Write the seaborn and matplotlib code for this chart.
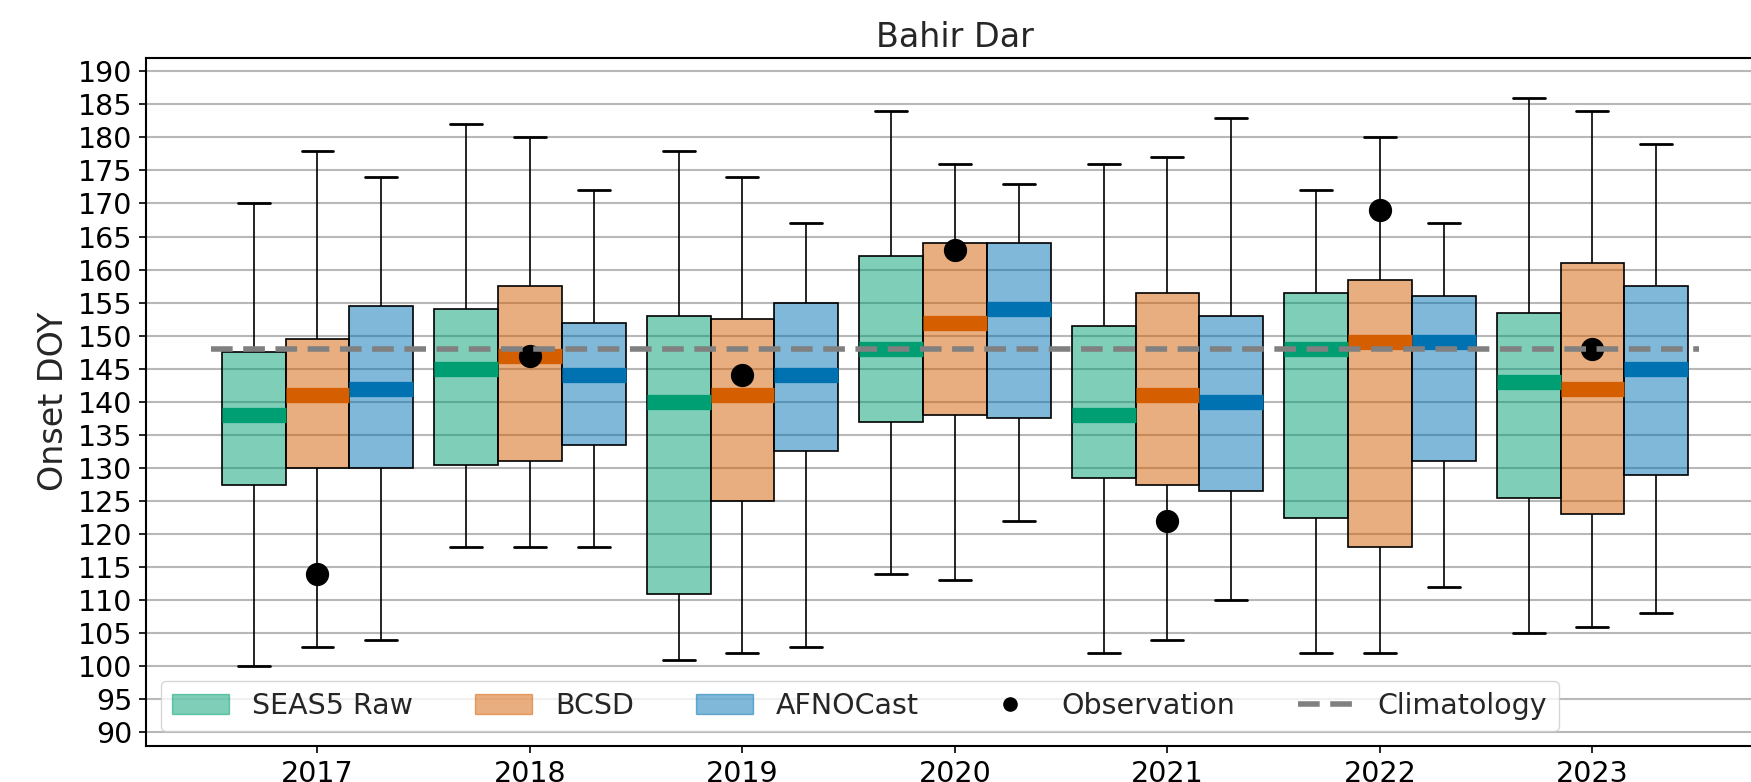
import numpy as np
import pandas as pd
import seaborn as sns
import matplotlib.pyplot as plt
from matplotlib.patches import Patch
from matplotlib.lines import Line2D
from matplotlib.colors import to_rgb

# values: [min, q1, median, q3, max] per year
years = [2017, 2018, 2019, 2020, 2021, 2022, 2023]
models = ["SEAS5 Raw", "BCSD", "AFNOCast"]

seas5_raw = [[100, 127.5, 138, 147.5, 170],
             [118, 130.5, 145, 154, 182],
             [101, 111, 140, 153, 178],
             [114, 137, 148, 162, 184],
             [102, 128.5, 138, 151.5, 176],
             [102, 122.5, 148, 156.5, 172],
             [105, 125.5, 143, 153.5, 186]]
bcsd = [[103, 130, 141, 149.5, 178],
        [118, 131, 147, 157.5, 180],
        [102, 125, 141, 152.5, 174],
        [113, 138, 152, 164, 176],
        [104, 127.5, 141, 156.5, 177],
        [102, 118, 149, 158.5, 180],
        [106, 123, 142, 161, 184]]
afnocast = [[104, 130, 142, 154.5, 174],
            [118, 133.5, 144, 152, 172],
            [103, 132.5, 144, 155, 167],
            [122, 137.5, 154, 164, 173],
            [110, 126.5, 140, 153, 183],
            [112, 131, 149, 156, 167],
            [108, 129, 145, 157.5, 179]]
observation = [114, 147, 144, 163, 122, 169, 148]
climatology = 148

colors = ["#009E73", "#D55E00", "#0072B2"]

rows = []
for model, stats in zip(models, [seas5_raw, bcsd, afnocast]):
    for yr, vals in zip(years, stats):
        for v in vals:
            rows.append({"year": yr, "model": model, "doy": v})
df = pd.DataFrame(rows)

sns.set_theme(style="ticks")
plt.rcParams["font.family"] = ["DejaVu Sans"]

fig = plt.figure(figsize=(17.51, 7.82), dpi=100)
# the original figure is cropped on the right: let the axes run well past the canvas
# (visible part spans x = -0.805 ... ~6.75, about 212 px per year)
ax_w = 1.1
ax = fig.add_axes([0.0836, 0.0464, ax_w, 0.8794])
full_span = 7.61 * ax_w / 0.9235

sns.boxplot(data=df, x="year", y="doy", hue="model", order=years, hue_order=models,
            palette=colors, saturation=1, width=0.9, gap=0, whis=(0, 100),
            showfliers=False, linecolor="black", linewidth=1.2,
            medianprops={"linewidth": 11},
            capprops={"linewidth": 2},
            legend=False, ax=ax)

# lighter boxes, solid coloured medians
for i, cont in enumerate(ax.containers):
    for box in cont.boxes:
        box.set_facecolor((*to_rgb(colors[i]), 0.5))
        box.set_edgecolor("black")
    for med in cont.medians:
        med.set_color(colors[i])

pos = np.arange(len(years))
sns.scatterplot(x=pos, y=observation, color="black", s=240, edgecolor=None,
                zorder=5, legend=False, ax=ax)
ax.hlines(climatology, -0.5, len(years) - 0.5, colors="gray",
          linestyles=(0, (3.9, 1.9)), linewidth=4, zorder=6)

ax.set_xlim(-0.805, -0.805 + full_span)
ax.set_ylim(88, 192)
ax.set_yticks(np.arange(90, 191, 5))
ax.set_xticks(pos)
ax.set_xticklabels([str(y) for y in years])
ax.yaxis.grid(True, color="#b8b8b8", linewidth=1.5)
ax.set_axisbelow(True)
ax.tick_params(labelsize=20.5, length=5, width=1.2, pad=5, colors="black")
for sp in ax.spines.values():
    sp.set_linewidth(1.5)
    sp.set_color("black")
ax.spines["right"].set_visible(False)

ax.set_xlabel("")
ax.set_ylabel("Onset DOY", fontsize=24, labelpad=6)
# centre of the original (uncropped) axes
ax.set_title("Bahir Dar", fontsize=24, pad=8, x=0.5 * 0.9235 / ax_w)

handles = [Patch(facecolor=c, edgecolor=c, alpha=0.5) for c in colors]
handles.append(Line2D([], [], marker="o", color="black", linestyle="none", markersize=9.5))
handles.append(Line2D([], [], color="gray", linewidth=4, linestyle=(0, (3.9, 1.9))))
labels = models + ["Observation", "Climatology"]
ax.legend(handles, labels, loc="lower left", ncol=5, fontsize=20.5,
          frameon=True, columnspacing=2.2, borderaxespad=0.5)

fig.savefig("out.png", dpi=100)
